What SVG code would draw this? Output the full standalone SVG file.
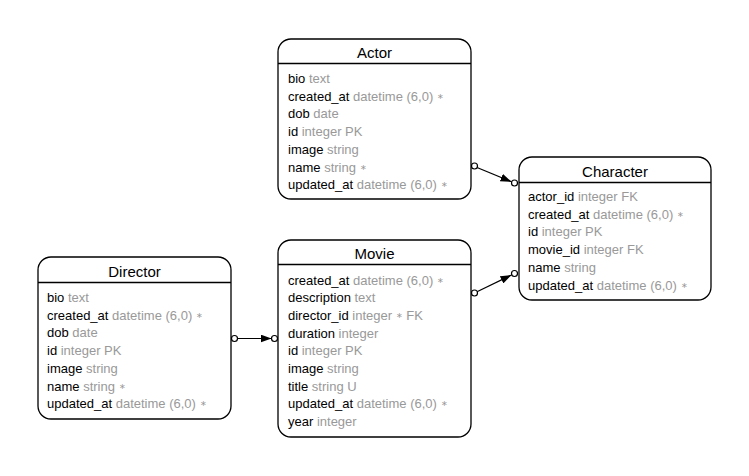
<svg xmlns="http://www.w3.org/2000/svg" width="749" height="476" viewBox="0 0 749 476">
<defs>
<style>
.box{fill:#fff;stroke:#000;stroke-width:1.3}
.hdr{stroke:#000;stroke-width:1.3}
.title{font-family:"Liberation Sans",Arial,sans-serif;font-size:15px;fill:#000;text-anchor:middle}
.row{font-family:"Liberation Sans",Arial,sans-serif;font-size:13px;fill:#000}
.t{fill:#999}
.s{fill:#999;font-size:8px;baseline-shift:2px}
.edge{stroke:#000;stroke-width:1.2;fill:none}
.dot{fill:#fff;stroke:#000;stroke-width:1.2}
</style>
<marker id="arr" markerWidth="12" markerHeight="8" refX="11" refY="4" orient="auto" markerUnits="userSpaceOnUse">
<path d="M0,0 L11,4 L0,8 Z" fill="#000"/>
</marker>
</defs>
<rect width="749" height="476" fill="#fff"/>

<g id="connectors">
<line class="edge" x1="477" y1="167.5" x2="511.5" y2="181.8" marker-end="url(#arr)"/>
<circle class="dot" cx="474.5" cy="166" r="3"/>
<circle class="dot" cx="514.5" cy="183" r="3"/>
<line class="edge" x1="477" y1="291.8" x2="511.5" y2="275" marker-end="url(#arr)"/>
<circle class="dot" cx="474.5" cy="293" r="3"/>
<circle class="dot" cx="514.5" cy="273.5" r="3"/>
<line class="edge" x1="237.5" y1="338.5" x2="271.5" y2="338.5" marker-end="url(#arr)"/>
<circle class="dot" cx="234.5" cy="338.5" r="3"/>
<circle class="dot" cx="274.5" cy="338.5" r="3"/>
</g>

<g id="actor">
<rect class="box" x="278" y="39" width="193" height="160" rx="13"/>
<line class="hdr" x1="278" y1="63.5" x2="471" y2="63.5"/>
<text class="title" x="374.5" y="58">Actor</text>
<text class="row" x="288" y="83">bio <tspan class="t">text</tspan></text>
<text class="row" x="288" y="100.7">created_at <tspan class="t">datetime (6,0) </tspan><tspan class="s">∗</tspan></text>
<text class="row" x="288" y="118.4">dob <tspan class="t">date</tspan></text>
<text class="row" x="288" y="136.1">id <tspan class="t">integer PK</tspan></text>
<text class="row" x="288" y="153.8">image <tspan class="t">string</tspan></text>
<text class="row" x="288" y="171.5">name <tspan class="t">string </tspan><tspan class="s">∗</tspan></text>
<text class="row" x="288" y="189.2">updated_at <tspan class="t">datetime (6,0) </tspan><tspan class="s">∗</tspan></text>
</g>

<g id="character">
<rect class="box" x="519" y="157" width="192" height="143" rx="13"/>
<line class="hdr" x1="519" y1="182.5" x2="711" y2="182.5"/>
<text class="title" x="615" y="177">Character</text>
<text class="row" x="528" y="201">actor_id <tspan class="t">integer FK</tspan></text>
<text class="row" x="528" y="218.7">created_at <tspan class="t">datetime (6,0) </tspan><tspan class="s">∗</tspan></text>
<text class="row" x="528" y="236.4">id <tspan class="t">integer PK</tspan></text>
<text class="row" x="528" y="254.1">movie_id <tspan class="t">integer FK</tspan></text>
<text class="row" x="528" y="271.8">name <tspan class="t">string</tspan></text>
<text class="row" x="528" y="289.5">updated_at <tspan class="t">datetime (6,0) </tspan><tspan class="s">∗</tspan></text>
</g>

<g id="director">
<rect class="box" x="38" y="257" width="193" height="162" rx="13"/>
<line class="hdr" x1="38" y1="282.5" x2="231" y2="282.5"/>
<text class="title" x="134.5" y="277">Director</text>
<text class="row" x="47" y="302">bio <tspan class="t">text</tspan></text>
<text class="row" x="47" y="319.7">created_at <tspan class="t">datetime (6,0) </tspan><tspan class="s">∗</tspan></text>
<text class="row" x="47" y="337.4">dob <tspan class="t">date</tspan></text>
<text class="row" x="47" y="355.1">id <tspan class="t">integer PK</tspan></text>
<text class="row" x="47" y="372.8">image <tspan class="t">string</tspan></text>
<text class="row" x="47" y="390.5">name <tspan class="t">string </tspan><tspan class="s">∗</tspan></text>
<text class="row" x="47" y="408.2">updated_at <tspan class="t">datetime (6,0) </tspan><tspan class="s">∗</tspan></text>
</g>

<g id="movie">
<rect class="box" x="278" y="240" width="193" height="197" rx="13"/>
<line class="hdr" x1="278" y1="264.5" x2="471" y2="264.5"/>
<text class="title" x="374.5" y="259">Movie</text>
<text class="row" x="288" y="284.5">created_at <tspan class="t">datetime (6,0) </tspan><tspan class="s">∗</tspan></text>
<text class="row" x="288" y="302.2">description <tspan class="t">text</tspan></text>
<text class="row" x="288" y="319.9">director_id <tspan class="t">integer </tspan><tspan class="s">∗</tspan><tspan class="t"> FK</tspan></text>
<text class="row" x="288" y="337.6">duration <tspan class="t">integer</tspan></text>
<text class="row" x="288" y="355.3">id <tspan class="t">integer PK</tspan></text>
<text class="row" x="288" y="373">image <tspan class="t">string</tspan></text>
<text class="row" x="288" y="390.7">title <tspan class="t">string U</tspan></text>
<text class="row" x="288" y="408.4">updated_at <tspan class="t">datetime (6,0) </tspan><tspan class="s">∗</tspan></text>
<text class="row" x="288" y="426.1">year <tspan class="t">integer</tspan></text>
</g>
</svg>
